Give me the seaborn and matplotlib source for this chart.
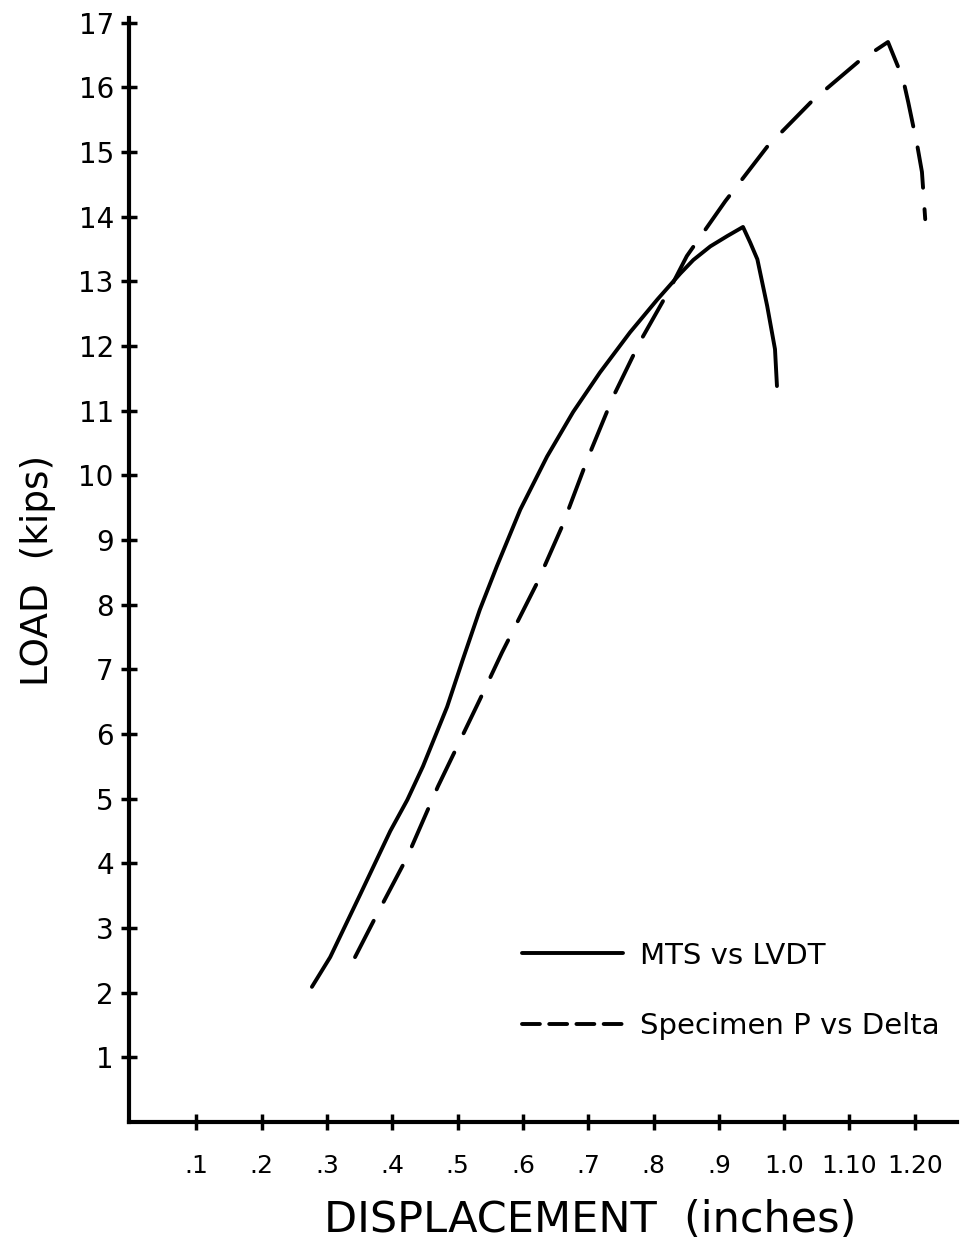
import pandas as pd
import seaborn as sns
import matplotlib.pyplot as plt

# MTS vs LVDT (solid)
mts_disp = [0.277, 0.305, 0.351, 0.397, 0.423, 0.447, 0.484, 0.508, 0.534, 0.560,
            0.596, 0.637, 0.677, 0.718, 0.764, 0.806, 0.841, 0.861, 0.887, 0.913,
            0.937, 0.948, 0.959, 0.974, 0.986, 0.989]
mts_load = [2.09, 2.55, 3.52, 4.50, 4.98, 5.50, 6.42, 7.15, 7.92, 8.59,
            9.47, 10.29, 10.98, 11.59, 12.21, 12.72, 13.12, 13.33, 13.54, 13.70,
            13.84, 13.60, 13.34, 12.62, 11.95, 11.38]

# Specimen P vs Delta (dashed)
spec_disp = [0.343, 0.374, 0.423, 0.470, 0.534, 0.568, 0.622, 0.660, 0.700, 0.738,
             0.779, 0.825, 0.851, 0.910, 0.974, 1.043, 1.113, 1.159, 1.182, 1.190,
             1.204, 1.211, 1.216]
spec_load = [2.55, 3.16, 4.10, 5.19, 6.53, 7.26, 8.34, 9.21, 10.28, 11.21,
             12.06, 12.88, 13.39, 14.24, 15.08, 15.79, 16.39, 16.70, 16.13, 15.77,
             15.09, 14.69, 13.96]

x_ticks = [0.1, 0.2, 0.3, 0.4, 0.5, 0.6, 0.7, 0.8, 0.9, 1.0, 1.1, 1.2]
x_labels = ['.1', '.2', '.3', '.4', '.5', '.6', '.7', '.8', '.9', '1.0', '1.10', '1.20']
y_ticks = list(range(1, 18))

df_mts = pd.DataFrame({'disp': mts_disp, 'load': mts_load})
df_spec = pd.DataFrame({'disp': spec_disp, 'load': spec_load})

sns.set_style('ticks')
plt.rcParams['font.family'] = ['DejaVu Sans']

fig = plt.figure(figsize=(9.63, 12.46), dpi=100)
ax = fig.add_axes([0.134, 0.0995, 0.86, 0.886])

sns.lineplot(data=df_mts, x='disp', y='load', sort=False, estimator=None,
             color='black', linewidth=2.8, solid_capstyle='round',
             solid_joinstyle='round', label='MTS vs LVDT', ax=ax)
sns.lineplot(data=df_spec, x='disp', y='load', sort=False, estimator=None,
             color='black', linewidth=2.8, ax=ax,
             label='Specimen P vs Delta')
ax.lines[-1].set_dashes([10.5, 5.5])
ax.lines[-1].set_dash_capstyle('round')

ax.set_xlim(-0.003, 1.265)
ax.set_ylim(0, 17.07)
sns.despine(ax=ax)
for s in ['left', 'bottom']:
    ax.spines[s].set_linewidth(3)
    ax.spines[s].set_color('black')

ax.set_xticks(x_ticks)
ax.set_xticklabels(x_labels, fontsize=18)
ax.set_yticks(y_ticks)
ax.set_yticklabels([str(v) for v in y_ticks], fontsize=20)
ax.tick_params(axis='both', direction='inout', length=12, width=2.5,
               colors='black')
ax.tick_params(axis='x', pad=17)
ax.tick_params(axis='y', pad=5)

ax.set_xlabel('DISPLACEMENT  (inches)', fontsize=31, labelpad=20, color='black')
ax.xaxis.set_label_coords(0.557, -0.07)
ax.set_ylabel('LOAD  (kips)', fontsize=27, labelpad=16, color='black')

leg = ax.legend(loc='center left', bbox_to_anchor=(0.4746, 0.119), frameon=False,
                fontsize=21, handlelength=3.45, handletextpad=0.6, labelspacing=1.45,
                borderpad=0, borderaxespad=0)
for line in leg.get_lines():
    line.set_linewidth(2.8)
leg.get_lines()[1].set_dashes([4.6, 2.4])
for t in leg.get_texts():
    t.set_color('black')

fig.savefig('out.png', dpi=100, facecolor='white')
